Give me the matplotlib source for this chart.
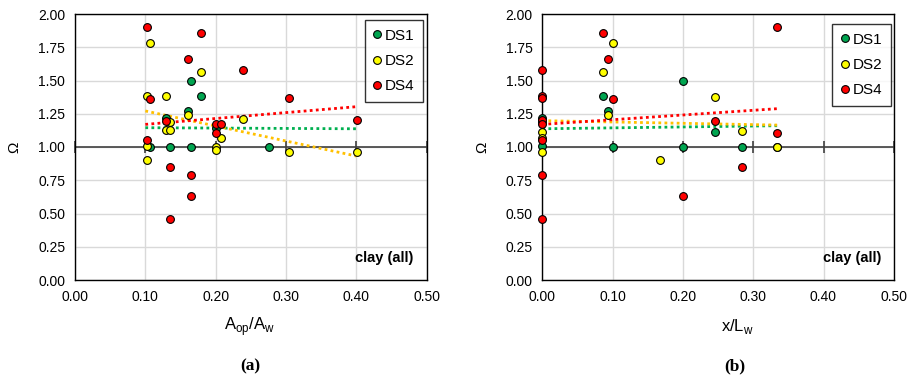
import matplotlib
matplotlib.use("Agg")
import matplotlib.pyplot as plt
from matplotlib.lines import Line2D

plt.rcParams['font.family'] = ['Liberation Sans', 'DejaVu Sans']

# ---------------- data ----------------
series_names = ["DS1", "DS2", "DS4"]

# panel (a): A_op/A_w
a_ds1_x = [0.107, 0.129, 0.135, 0.160, 0.165, 0.165, 0.179, 0.200, 0.276]
a_ds1_y = [1.00, 1.22, 1.00, 1.27, 1.50, 1.00, 1.38, 1.14, 1.00]
a_ds2_x = [0.103, 0.106, 0.103, 0.129, 0.160, 0.135, 0.129, 0.135, 0.179, 0.208,
           0.200, 0.200, 0.103, 0.239, 0.304, 0.401]
a_ds2_y = [1.38, 1.78, 1.01, 1.38, 1.24, 1.185, 1.125, 1.125, 1.565, 1.07,
           1.00, 0.98, 0.905, 1.21, 0.965, 0.965]
a_ds4_x = [0.103, 0.106, 0.179, 0.160, 0.129, 0.200, 0.208, 0.200, 0.103, 0.135,
           0.165, 0.165, 0.135, 0.239, 0.304, 0.401]
a_ds4_y = [1.90, 1.36, 1.855, 1.66, 1.195, 1.17, 1.17, 1.108, 1.055, 0.852,
           0.79, 0.632, 0.456, 1.58, 1.37, 1.205]
a_trend_x = [0.10, 0.40]
a_trend_ds1 = [1.145, 1.137]
a_trend_ds2 = [1.271, 0.932]
a_trend_ds4 = [1.170, 1.303]

# panel (b): x/L_w
b_ds1_x = [0.0, 0.0, 0.087, 0.0935, 0.10, 0.20, 0.20, 0.245, 0.284, 0.334]
b_ds1_y = [1.22, 1.005, 1.38, 1.27, 1.00, 1.50, 1.00, 1.115, 1.00, 1.00]
b_ds2_x = [0.0, 0.0, 0.0, 0.0, 0.10, 0.087, 0.0935, 0.167, 0.245, 0.284, 0.334]
b_ds2_y = [1.19, 1.115, 1.07, 0.965, 1.78, 1.565, 1.24, 0.905, 1.378, 1.123, 1.00]
b_ds4_x = [0.0, 0.0, 0.0, 0.0, 0.0, 0.0, 0.0, 0.0, 0.087, 0.0935, 0.10, 0.20,
           0.245, 0.284, 0.334, 0.334]
b_ds4_y = [1.58, 1.38, 1.365, 1.20, 1.17, 1.053, 0.79, 0.456, 1.855, 1.66, 1.363,
           0.632, 1.195, 0.852, 1.90, 1.105]
b_trend_x = [0.0, 0.334]
b_trend_ds1 = [1.137, 1.160]
b_trend_ds2 = [1.198, 1.165]
b_trend_ds4 = [1.170, 1.288]

x_ticks = [0.0, 0.1, 0.2, 0.3, 0.4, 0.5]
y_ticks = [0.0, 0.25, 0.5, 0.75, 1.0, 1.25, 1.5, 1.75, 2.0]

colors = {"DS1": "#00A550", "DS2": "#FFFF00", "DS4": "#FF0000"}
trend_colors = {"DS1": "#00B050", "DS2": "#FFC000", "DS4": "#FF0000"}

fig = plt.figure(figsize=(9.17, 3.78), dpi=100)
W, H = 917.0, 378.0
MS = 5.6


def make_panel(left_px, right_px, pts, trend_x, trends, legend_anchor, text_x):
    ax = fig.add_axes([left_px / W, (H - 280) / H, (right_px - left_px) / W, 266 / H])
    ax.set_xlim(0, 0.5)
    ax.set_ylim(0, 2.0)
    ax.set_xticks(x_ticks)
    ax.set_yticks(y_ticks)
    ax.set_xticklabels([f"{v:.2f}" for v in x_ticks])
    ax.set_yticklabels([f"{v:.2f}" for v in y_ticks])
    ax.tick_params(length=0, labelsize=10, colors="black")
    ax.tick_params(axis="x", pad=7)
    ax.tick_params(axis="y", pad=7)
    ax.grid(True, color="#d9d9d9", lw=1.0, zorder=0)
    ax.set_axisbelow(True)
    for s in ax.spines.values():
        s.set_color("black")
        s.set_linewidth(1.0)
    # axis line at 1.0 with ticks
    ax.axhline(1.0, color="#404040", lw=1.2, zorder=1)
    ax.plot(x_ticks, [1.0] * len(x_ticks), ls="none", marker="|", ms=8, mew=1.2,
            color="#404040", zorder=1, clip_on=False)
    # trend lines
    for name, tv in zip(series_names, trends):
        ax.plot(trend_x, tv, ls=(0, (1, 1.2)), lw=2.0, color=trend_colors[name], zorder=2)
    # points
    for name, (xs, ys) in zip(series_names, pts):
        ax.plot(xs, ys, ls="none", marker="o", ms=MS, mfc=colors[name], mec="black",
                mew=0.8, zorder=3, clip_on=False)
    handles = [Line2D([], [], ls="none", marker="o", ms=MS, mfc=colors[n], mec="black",
                      mew=0.8) for n in series_names]
    leg = ax.legend(handles, series_names, loc="upper right", bbox_to_anchor=legend_anchor,
                    fontsize=11, frameon=True, fancybox=False, handlelength=0.5,
                    handletextpad=0.3, labelspacing=0.75, borderpad=0.55,
                    borderaxespad=0.0)
    leg.get_frame().set_edgecolor("black")
    leg.get_frame().set_linewidth(1.0)
    ax.text(text_x, 0.083, "clay (all)", transform=ax.transAxes, ha="right", va="center",
            fontsize=10.5, fontweight="bold")
    return ax


ax1 = make_panel(75, 426.7,
                 [(a_ds1_x, a_ds1_y), (a_ds2_x, a_ds2_y), (a_ds4_x, a_ds4_y)],
                 a_trend_x, [a_trend_ds1, a_trend_ds2, a_trend_ds4],
                 (0.990, 0.977), 0.961)
ax2 = make_panel(542.3, 893.8,
                 [(b_ds1_x, b_ds1_y), (b_ds2_x, b_ds2_y), (b_ds4_x, b_ds4_y)],
                 b_trend_x, [b_trend_ds1, b_trend_ds2, b_trend_ds4],
                 (0.992, 0.962), 0.966)

# axis titles
fig.text(14 / W, 1 - 147 / H, "Ω", rotation=90, ha="center", va="center", fontsize=11)
fig.text(482 / W, 1 - 147 / H, "Ω", rotation=90, ha="center", va="center", fontsize=11)
fig.text(250 / W, 1 - 327 / H, r"A$_\mathregular{op}$/A$_\mathregular{w}$",
         ha="center", va="center", fontsize=12)
fig.text(737 / W, 1 - 327 / H, r"x/L$_\mathregular{w}$",
         ha="center", va="center", fontsize=12)
fig.text(250 / W, 1 - 366 / H, "(a)", ha="center", va="center", fontsize=12.5,
         fontweight="bold", family=["Liberation Serif", "DejaVu Serif"])
fig.text(735 / W, 1 - 366 / H, "(b)", ha="center", va="center", fontsize=12.5,
         fontweight="bold", family=["Liberation Serif", "DejaVu Serif"])

fig.savefig("out.png", dpi=100)
